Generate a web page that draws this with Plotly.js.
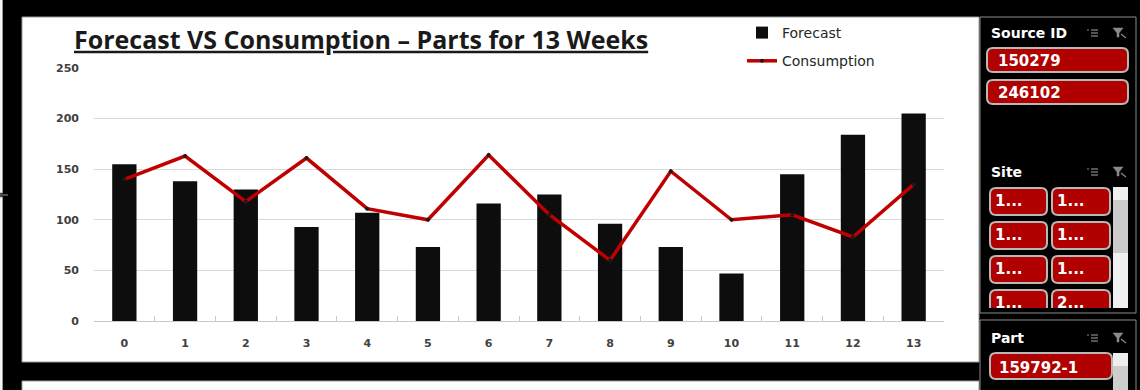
<!DOCTYPE html>
<html>
<head>
<meta charset="utf-8">
<script src="https://cdn.plot.ly/plotly-3.0.1.min.js"></script>
<style>
  html, body { margin: 0; padding: 0; background: #000; }
  #chart { width: 1140px; height: 390px; }
</style>
</head>
<body>
<div id="chart"></div>
<script>
// Weekly forecast vs consumption for the selected part
const weeks = ['0','1','2','3','4','5','6','7','8','9','10','11','12','13'];
const forecast = [155, 138, 130, 93, 107, 73, 116, 125, 96, 73, 47, 145, 184, 205];
const consumption = [140, 163, 118, 161, 111, 100, 164, 105, 60, 148, 100, 105, 83, 135];
const yTicks = [0, 50, 100, 150, 200, 250];

// Slicer contents
const sourceIds = ['150279', '246102'];
const siteLabels = ['1...', '1...', '1...', '1...', '1...', '1...', '1...', '2...'];
const partIds = ['159792-1'];

const W = 1140, H = 390;
const px = x => x / W;
const py = y => 1 - y / H;
const ident = v => v;

// Rounded rectangle path; fx/fy convert pixel positions into the shape's reference space
function roundRect(x0, y0, x1, y1, r, fx, fy) {
  return `M${fx(x0 + r)},${fy(y0)} L${fx(x1 - r)},${fy(y0)} Q${fx(x1)},${fy(y0)} ${fx(x1)},${fy(y0 + r)} ` +
         `L${fx(x1)},${fy(y1 - r)} Q${fx(x1)},${fy(y1)} ${fx(x1 - r)},${fy(y1)} ` +
         `L${fx(x0 + r)},${fy(y1)} Q${fx(x0)},${fy(y1)} ${fx(x0)},${fy(y1 - r)} ` +
         `L${fx(x0)},${fy(y0 + r)} Q${fx(x0)},${fy(y0)} ${fx(x0 + r)},${fy(y0)} Z`;
}

function rect(x0, y0, x1, y1, fill, line, lw) {
  return { type: 'rect', xref: 'paper', yref: 'paper', layer: 'below',
           x0: px(x0), x1: px(x1), y0: py(y1), y1: py(y0),
           fillcolor: fill, line: { color: line || fill, width: lw === undefined ? 0 : lw } };
}

const shapes = [];
const annotations = [];

// Dashboard panels
shapes.push(rect(22, 17, 979, 362, '#ffffff', '#9a9a9a', 1));
shapes.push(rect(22, 381, 979, 396, '#ffffff', '#9a9a9a', 1));
shapes.push(rect(-4, -4, 2.5, 193, '#f4f4f4', '#9a9a9a', 1));
shapes.push(rect(-4, 197, 2.5, 396, '#f4f4f4', '#9a9a9a', 1));
shapes.push({ type: 'line', xref: 'paper', yref: 'paper', layer: 'below',
  x0: px(0), x1: px(8), y0: py(195), y1: py(195), line: { color: '#9a9a9a', width: 1 } });

// Slicer frames
shapes.push(rect(980, 17, 1136, 313, 'rgba(0,0,0,0)', '#8c8c8c', 1));
shapes.push(rect(980, 320, 1136, 396, 'rgba(0,0,0,0)', '#8c8c8c', 1));

const headerFont = { family: 'DejaVu Sans', size: 14, color: '#ffffff', weight: 700 };
const btnFont = { family: 'DejaVu Sans', size: 15, color: '#ffffff', weight: 700 };
const btnFill = '#b00000';
const btnLine = '#b8b8b8';

function header(text, yc) {
  annotations.push({ xref: 'paper', yref: 'paper', x: px(989), y: py(yc), xanchor: 'left',
    yanchor: 'middle', showarrow: false, text: text, font: headerFont });
  // multi-select icon
  [-3, 0, 3].forEach(d => shapes.push({ type: 'line', xref: 'paper', yref: 'paper',
    x0: px(1091), x1: px(1098), y0: py(yc + d), y1: py(yc + d), line: { color: '#8a8a8a', width: 1.2 } }));
  shapes.push({ type: 'line', xref: 'paper', yref: 'paper', x0: px(1087), x1: px(1089),
    y0: py(yc - 3), y1: py(yc - 3), line: { color: '#8a8a8a', width: 1.2 } });
  // clear-filter icon
  shapes.push({ type: 'path', xref: 'paper', yref: 'paper',
    path: `M${px(1113)},${py(yc - 5)} L${px(1123)},${py(yc - 5)} L${px(1119)},${py(yc)} L${px(1119)},${py(yc + 4)} L${px(1117)},${py(yc + 4)} L${px(1117)},${py(yc)} Z`,
    fillcolor: '#8a8a8a', line: { color: '#8a8a8a', width: 0.5 } });
  shapes.push({ type: 'line', xref: 'paper', yref: 'paper', x0: px(1121), x1: px(1126),
    y0: py(yc + 1), y1: py(yc + 5), line: { color: '#8a8a8a', width: 1.2 } });
}

// Source ID slicer
header('Source ID', 33);
sourceIds.forEach((id, i) => {
  const top = 48 + i * 32;
  shapes.push({ type: 'path', xref: 'paper', yref: 'paper', layer: 'below',
    path: roundRect(987, top, 1128, top + 24, 6, px, py),
    fillcolor: btnFill, line: { color: btnLine, width: 2 } });
  annotations.push({ xref: 'paper', yref: 'paper', x: px(996), y: py(top + 12.5), xanchor: 'left',
    yanchor: 'middle', showarrow: false, text: id, font: btnFont });
});

// Site slicer (buttons live on a hidden subplot so the last row is clipped)
header('Site', 172);
const siteCols = [[990, 1047], [1052, 1110]];
siteLabels.forEach((lab, i) => {
  const c = siteCols[i % 2];
  const top = 188 + Math.floor(i / 2) * 34;
  shapes.push({ type: 'path', xref: 'x2', yref: 'y2', layer: 'below',
    path: roundRect(c[0], top, c[1], top + 27, 6, ident, ident),
    fillcolor: btnFill, line: { color: btnLine, width: 2 } });
});
shapes.push(rect(1113, 187, 1128, 308, '#f0f0f0'));
shapes.push(rect(1113, 200, 1128, 253, '#cbcbcb'));

// Part slicer
header('Part', 338);
partIds.forEach((id, i) => {
  const top = 353 + i * 32;
  shapes.push({ type: 'path', xref: 'paper', yref: 'paper', layer: 'below',
    path: roundRect(990, top, 1112, top + 26, 6, px, py),
    fillcolor: btnFill, line: { color: btnLine, width: 2 } });
  annotations.push({ xref: 'paper', yref: 'paper', x: px(997), y: py(top + 15), xanchor: 'left',
    yanchor: 'middle', showarrow: false, text: id, font: btnFont });
});
shapes.push(rect(1113, 353, 1128, 396, '#eeeeee'));
shapes.push(rect(1113, 366, 1128, 396, '#cdcdcd'));

const tickFont = { family: 'DejaVu Sans', size: 11, color: '#404040', weight: 700 };

const traces = [
  {
    type: 'bar', name: 'Forecast', x: weeks, y: forecast,
    marker: { color: '#0d0d0d' }, legendgroup: 'f',
    hoverinfo: 'x+y'
  },
  {
    type: 'scatter', mode: 'lines+markers', name: 'Consumption', x: weeks, y: consumption,
    line: { color: '#c00000', width: 3.5 },
    marker: { color: '#1a1a1a', size: 4 }, legendgroup: 'c'
  },
  {
    type: 'scatter', mode: 'text', xaxis: 'x2', yaxis: 'y2', showlegend: false,
    hoverinfo: 'skip', cliponaxis: true,
    x: siteLabels.map((_, i) => siteCols[i % 2][0] + 5),
    y: siteLabels.map((_, i) => 188 + Math.floor(i / 2) * 34 + 14),
    text: siteLabels, textposition: 'middle right', textfont: btnFont
  }
];

const layout = {
  width: W, height: H,
  margin: { l: 0, r: 0, t: 0, b: 0, pad: 0 },
  paper_bgcolor: '#000000',
  plot_bgcolor: 'rgba(0,0,0,0)',
  bargap: 0.6,
  title: {
    text: '<u>Forecast VS Consumption – Parts for 13 Weeks</u>',
    xref: 'paper', yref: 'paper', x: px(74), xanchor: 'left', y: py(40), yanchor: 'middle',
    font: { family: 'Open Sans', size: 25, weight: 700, color: '#1a1a1a' }
  },
  xaxis: {
    domain: [px(94), px(944)], type: 'category', range: [-0.5, 13.5], automargin: false,
    tickson: 'boundaries', ticks: 'inside', ticklen: 5, tickcolor: '#c8c8c8',
    showline: true, linecolor: '#c8c8c8', linewidth: 1, showgrid: false,
    tickfont: tickFont, ticklabelstandoff: 12, fixedrange: true
  },
  yaxis: {
    domain: [py(321), py(68)], range: [0, 250], tickvals: yTicks, automargin: false,
    showgrid: true, gridcolor: '#d9d9d9', gridwidth: 1, zeroline: false, showline: false,
    ticks: '', tickfont: tickFont, ticklabelstandoff: 14, fixedrange: true
  },
  xaxis2: {
    domain: [px(985), px(1112)], range: [985, 1112], visible: false, fixedrange: true,
    anchor: 'y2', automargin: false
  },
  yaxis2: {
    domain: [py(308), py(185)], range: [308, 185], visible: false, fixedrange: true,
    anchor: 'x2', automargin: false
  },
  legend: {
    x: px(742), xanchor: 'left', y: py(17), yanchor: 'top',
    bgcolor: 'rgba(0,0,0,0)', traceorder: 'grouped', tracegroupgap: 7,
    font: { family: 'DejaVu Sans', size: 14, color: '#262626' }, itemwidth: 30
  },
  shapes: shapes,
  annotations: annotations,
  showlegend: true
};

Plotly.newPlot('chart', traces, layout, { displayModeBar: false, staticPlot: true });
</script>
</body>
</html>
